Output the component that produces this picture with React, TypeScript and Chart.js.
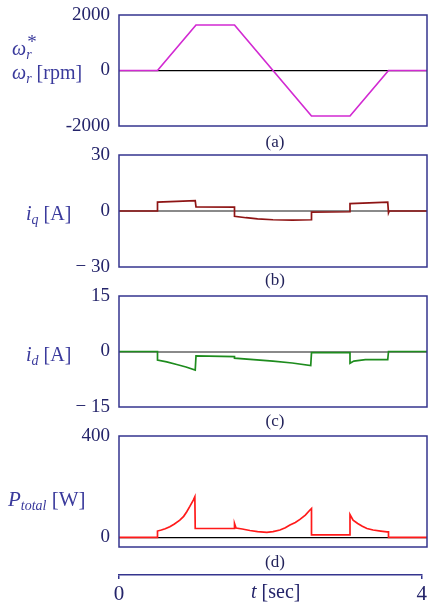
import React, { useEffect, useRef } from "react";
import { Chart, registerables } from "chart.js";

Chart.register(...registerables);

// ---------------- data ----------------
const timeRange = [0, 4];
const timeTicks = [0, 4];
const timeTickLabels = ["0", "4"];

const speedTicks = [-2000, 0, 2000];
const speedTickLabels = ["-2000", "0", "2000"];
const speedTime = [0, 0.5, 1.0, 1.5, 2.5, 3.0, 3.5, 4.0];
const speedRpm = [0, 0, 1640, 1640, -1640, -1640, 0, 0];

const iqTicks = [-30, 0, 30];
const iqTickLabels = ["\u2212 30", "0", "30"];
const iqTime = [0, 0.5, 0.5, 0.75, 0.99, 1.0, 1.5, 1.5, 1.65, 1.8, 2.0, 2.25, 2.5, 2.5, 3.0, 3.0, 3.25, 3.49, 3.5, 3.51, 4.0];
const iqAmp = [0, 0, 4.8, 5.2, 5.6, 2.2, 2.1, -2.8, -3.6, -4.2, -4.7, -4.9, -4.7, -0.6, -0.4, 4.0, 4.4, 4.7, -1.0, 0, 0];

const idTicks = [-15, 0, 15];
const idTickLabels = ["\u2212 15", "0", "15"];
const idTime = [0, 0.5, 0.5, 0.62, 0.75, 0.87, 0.99, 1.0, 1.5, 1.5, 2.0, 2.25, 2.49, 2.5, 3.0, 3.0, 3.05, 3.2, 3.49, 3.5, 4.0];
const idAmp = [0, 0, -2.3, -2.8, -3.5, -4.2, -5.0, -1.2, -1.4, -1.8, -2.6, -3.1, -3.8, -0.3, -0.3, -3.2, -2.6, -2.2, -2.2, 0, 0];

const pTicks = [0, 400];
const pTickLabels = ["0", "400"];
const pTime = [
  0, 0.5, 0.5, 0.55, 0.6, 0.66, 0.72, 0.79, 0.84, 0.88, 0.92, 0.965, 0.985,
  0.99, 1.5, 1.5, 1.52, 1.6, 1.7, 1.8, 1.92, 2.0, 2.09, 2.16, 2.22, 2.29, 2.35, 2.42, 2.48, 2.5,
  2.5, 3.0, 3.0, 3.04, 3.1, 3.16, 3.22, 3.3, 3.4, 3.48, 3.5, 3.5, 4.0,
];
const pWatt = [
  0, 0, 25, 29, 34, 42, 53, 68, 83, 101, 122, 147, 160,
  35, 35, 55, 37, 33, 27, 23, 20, 23, 29, 38, 49, 59, 71, 88, 108, 114,
  10, 10, 90, 68, 55, 44, 35, 29, 25, 22, 22, 0, 0,
];

// ---------------- styles ----------------
const FONT = "'Liberation Serif', 'Times New Roman', serif";
const NAVY = "#34348e";
const TICK_NAVY = "#24246a";
const LABEL_BLUE = "#3a3a9c";
const PLOT_LEFT = 119;
const PLOT_RIGHT = 427;
const W = 430;

const borderPlugin = {
  id: "panelBorder",
  afterDatasetsDraw(chart: any) {
    const { ctx, chartArea } = chart;
    ctx.save();
    ctx.strokeStyle = NAVY;
    ctx.lineWidth = 1.5;
    ctx.strokeRect(chartArea.left, chartArea.top, chartArea.right - chartArea.left, chartArea.bottom - chartArea.top);
    ctx.restore();
  },
};

type Panel = {
  top: number;
  bottom: number;
  min: number;
  max: number;
  ticks: number[];
  tickLabels: string[];
  zeroColor: string;
  zeroWidth: number;
  t: number[];
  v: number[];
  color: string;
};

const PAD = 16;

function PanelChart({ p }: { p: Panel }) {
  const ref = useRef<HTMLCanvasElement>(null);
  useEffect(() => {
    const data = p.t.map((x, i) => ({ x, y: p.v[i] }));
    const chart = new Chart(ref.current!, {
      type: "line",
      data: {
        datasets: [
          {
            data,
            borderColor: p.color,
            borderWidth: 1.7,
            pointRadius: 0,
            tension: 0,
            fill: false,
          },
        ],
      },
      options: {
        animation: false,
        responsive: false,
        maintainAspectRatio: false,
        layout: { padding: { top: PAD, bottom: PAD, left: 0, right: W - PLOT_RIGHT } },
        plugins: { legend: { display: false }, tooltip: { enabled: false } },
        scales: {
          x: { type: "linear", min: timeRange[0], max: timeRange[1], display: false },
          y: {
            type: "linear",
            min: p.min,
            max: p.max,
            afterFit: (s: any) => {
              s.width = PLOT_LEFT;
              s.paddingTop = 0;
              s.paddingBottom = 0;
            },
            afterBuildTicks: (s: any) => {
              s.ticks = p.ticks.map((value) => ({ value }));
            },
            border: { display: false },
            grid: {
              drawTicks: false,
              lineWidth: p.zeroWidth,
              color: (c: any) => (c.tick && c.tick.value === 0 ? p.zeroColor : "rgba(0,0,0,0)"),
            },
            ticks: {
              padding: 9,
              color: TICK_NAVY,
              font: { family: FONT, size: 19 },
              callback: (val: any) => {
                const i = p.ticks.indexOf(Number(val));
                return i >= 0 ? p.tickLabels[i] : "";
              },
            },
          },
        },
      },
      plugins: [borderPlugin],
    });
    return () => chart.destroy();
  }, []);
  const h = p.bottom - p.top + 2 * PAD;
  return (
    <canvas
      ref={ref}
      width={W}
      height={h}
      style={{ position: "absolute", left: 0, top: p.top - PAD, width: W, height: h }}
    />
  );
}

function TimeAxis() {
  const ref = useRef<HTMLCanvasElement>(null);
  useEffect(() => {
    const chart = new Chart(ref.current!, {
      type: "line",
      data: { datasets: [{ data: [], pointRadius: 0 }] },
      options: {
        animation: false,
        responsive: false,
        maintainAspectRatio: false,
        layout: { padding: { top: 0, bottom: 0, left: PLOT_LEFT, right: W - PLOT_RIGHT } },
        plugins: { legend: { display: false }, tooltip: { enabled: false } },
        scales: {
          x: {
            type: "linear",
            min: timeRange[0],
            max: timeRange[1],
            afterFit: (s: any) => {
              s.height = 30;
            },
            afterBuildTicks: (s: any) => {
              s.ticks = timeTicks.map((value) => ({ value }));
            },
            border: { display: true, color: NAVY, width: 1.5 },
            grid: { drawOnChartArea: false, drawTicks: true, tickLength: 4, color: NAVY, lineWidth: 1.5 },
            ticks: {
              padding: 3,
              color: TICK_NAVY,
              maxRotation: 0,
              autoSkip: false,
              font: { family: FONT, size: 21 },
              callback: (val: any) => {
                const i = timeTicks.indexOf(Number(val));
                return i >= 0 ? timeTickLabels[i] : "";
              },
            },
          },
          y: { display: false, min: 0, max: 1 },
        },
      },
    });
    return () => chart.destroy();
  }, []);
  return (
    <canvas
      ref={ref}
      width={W}
      height={45}
      style={{ position: "absolute", left: 0, top: 560, width: W, height: 45 }}
    />
  );
}

const panels: Panel[] = [
  { top: 15, bottom: 126, min: -2000, max: 2000, ticks: speedTicks, tickLabels: speedTickLabels, zeroColor: "#000000", zeroWidth: 1.2, t: speedTime, v: speedRpm, color: "#d22ad2" },
  { top: 155, bottom: 267, min: -30, max: 30, ticks: iqTicks, tickLabels: iqTickLabels, zeroColor: "#8a8a8a", zeroWidth: 2, t: iqTime, v: iqAmp, color: "#8e1414" },
  { top: 296, bottom: 407, min: -15, max: 15, ticks: idTicks, tickLabels: idTickLabels, zeroColor: "#8a8a8a", zeroWidth: 2, t: idTime, v: idAmp, color: "#1e8c1e" },
  { top: 436, bottom: 547, min: -38, max: 400, ticks: pTicks, tickLabels: pTickLabels, zeroColor: "#000000", zeroWidth: 1.2, t: pTime, v: pWatt, color: "#ff1a1a" },
];

const labelBase: React.CSSProperties = {
  position: "absolute",
  fontFamily: FONT,
  color: LABEL_BLUE,
  fontSize: 20,
  lineHeight: "22px",
  whiteSpace: "nowrap",
  transform: "translateY(-50%)",
};

const capStyle: React.CSSProperties = {
  position: "absolute",
  fontFamily: FONT,
  color: "#22225a",
  fontSize: 17,
  lineHeight: "20px",
  width: 60,
  textAlign: "center",
  left: 275 - 30,
  transform: "translateY(-50%)",
};

const sub: React.CSSProperties = { fontSize: 14, verticalAlign: "-4px", lineHeight: 0 };

export default function App() {
  return (
    <div style={{ position: "absolute", left: 0, top: 0, width: W, height: 602, background: "#fff", overflow: "hidden" }}>
      {panels.map((p, i) => (
        <PanelChart key={i} p={p} />
      ))}
      <TimeAxis />

      <div style={{ ...labelBase, left: 12, top: 48 }}>
        <i>ω</i>
        <span style={{ position: "relative" }}>
          <i style={{ position: "absolute", left: 1, top: -6, fontSize: 19, fontStyle: "normal" }}>*</i>
          <i style={sub}>r</i>
        </span>
      </div>
      <div style={{ ...labelBase, left: 12, top: 72 }}>
        <i>ω</i>
        <i style={sub}>r</i> [rpm]
      </div>
      <div style={{ ...labelBase, left: 26, top: 213 }}>
        <i>i</i>
        <i style={sub}>q</i> [A]
      </div>
      <div style={{ ...labelBase, left: 26, top: 354 }}>
        <i>i</i>
        <i style={sub}>d</i> [A]
      </div>
      <div style={{ ...labelBase, left: 8, top: 499, fontSize: 21 }}>
        <i>P</i>
        <i style={sub}>total</i> [W]
      </div>

      <div style={{ ...capStyle, top: 142 }}>(a)</div>
      <div style={{ ...capStyle, top: 280 }}>(b)</div>
      <div style={{ ...capStyle, top: 421 }}>(c)</div>
      <div style={{ ...capStyle, top: 562 }}>(d)</div>

      <div style={{ ...labelBase, left: 251, top: 591, fontSize: 20, color: TICK_NAVY }}>
        <i>t</i> [sec]
      </div>
    </div>
  );
}
